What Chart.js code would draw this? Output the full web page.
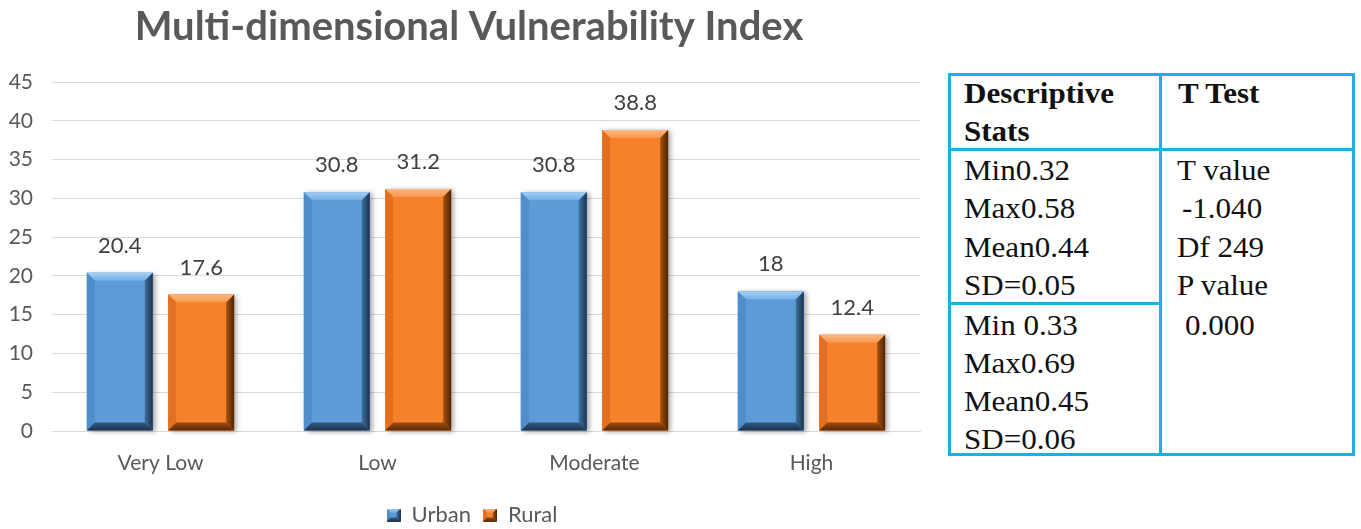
<!DOCTYPE html>
<html>
<head>
<meta charset="utf-8">
<script src="https://cdn.jsdelivr.net/npm/chart.js@4.4.1/dist/chart.umd.min.js"></script>
<style>
  html, body { margin: 0; padding: 0; background: #ffffff; }
  #page { position: relative; width: 1361px; height: 529px; overflow: hidden; background: #ffffff; }
  #chart { position: absolute; left: 0; top: 0; }
  .rule { position: absolute; background: #1FADE6; }
  .cell { position: absolute; font-family: "Liberation Serif", "Times New Roman", serif; font-size: 29px;
          line-height: 29px; color: #111111; white-space: pre; transform: scaleX(1.07); transform-origin: left top; }
  .cell.b { font-weight: bold; }
</style>
</head>
<body>
<div id="page">
  <canvas id="chart" width="940" height="529"></canvas>

  <!-- statistics table -->
  <div class="rule" style="left:948px; top:73px; width:407px; height:3px;"></div>
  <div class="rule" style="left:948px; top:453px; width:407px; height:3px;"></div>
  <div class="rule" style="left:948px; top:73px; width:3px; height:383px;"></div>
  <div class="rule" style="left:1352px; top:73px; width:3px; height:383px;"></div>
  <div class="rule" style="left:1159px; top:73px; width:3px; height:383px;"></div>
  <div class="rule" style="left:948px; top:148px; width:407px; height:3px;"></div>
  <div class="rule" style="left:948px; top:302px; width:214px; height:3px;"></div>

  <div class="cell b" style="left:964px; top:79px;">Descriptive</div>
  <div class="cell b" style="left:964px; top:117px;">Stats</div>
  <div class="cell b" style="left:1178px; top:79px;">T Test</div>

  <div class="cell" style="left:964px; top:156px;">Min0.32</div>
  <div class="cell" style="left:964px; top:194px;">Max0.58</div>
  <div class="cell" style="left:964px; top:233px;">Mean0.44</div>
  <div class="cell" style="left:964px; top:271px;">SD=0.05</div>

  <div class="cell" style="left:964px; top:311px;">Min 0.33</div>
  <div class="cell" style="left:964px; top:349px;">Max0.69</div>
  <div class="cell" style="left:964px; top:387px;">Mean0.45</div>
  <div class="cell" style="left:964px; top:425px;">SD=0.06</div>

  <div class="cell" style="left:1177px; top:156px;">T value</div>
  <div class="cell" style="left:1182px; top:194px;">-1.040</div>
  <div class="cell" style="left:1177px; top:233px;">Df 249</div>
  <div class="cell" style="left:1177px; top:271px;">P value</div>
  <div class="cell" style="left:1185px; top:311px;">0.000</div>
</div>

<script>
// chart data
const categories = ['Very Low', 'Low', 'Moderate', 'High'];
const urbanValues = [20.4, 30.8, 30.8, 18];
const ruralValues = [17.6, 31.2, 38.8, 12.4];
const seriesNames = ['Urban', 'Rural'];
const yMin = 0, yMax = 45, yStep = 5;

const FONT = 'Lato, "Open Sans", sans-serif';

// bevel palettes for the two series
const palettes = [
  { face: '#5B9BD8', top1: '#a5d0f5', top2: '#73ade6', left: '#4f8dcb',
    right1: '#3e6fa0', right2: '#1b3350', bot1: '#315b85', bot2: '#1d3249' },
  { face: '#F5812B', top1: '#fcb783', top2: '#f8974a', left: '#e27020',
    right1: '#a9520f', right2: '#4a2406', bot1: '#9e4b0d', bot2: '#5a2a06' }
];

function poly(ctx, pts, fill) {
  ctx.beginPath();
  ctx.moveTo(pts[0][0], pts[0][1]);
  for (let i = 1; i < pts.length; i++) ctx.lineTo(pts[i][0], pts[i][1]);
  ctx.closePath();
  ctx.fillStyle = fill;
  ctx.fill();
}

function drawBevel(ctx, L, T, R, B, pal, size) {
  const b = Math.min(size, (B - T) / 2, (R - L) / 2);
  let g = ctx.createLinearGradient(0, T, 0, T + b);
  g.addColorStop(0, pal.top1); g.addColorStop(1, pal.top2);
  poly(ctx, [[L, T], [R, T], [R - b, T + b], [L + b, T + b]], g);
  poly(ctx, [[L, T], [L + b, T + b], [L + b, B - b], [L, B]], pal.left);
  g = ctx.createLinearGradient(R - b, 0, R, 0);
  g.addColorStop(0, pal.right1); g.addColorStop(1, pal.right2);
  poly(ctx, [[R, T], [R, B], [R - b, B - b], [R - b, T + b]], g);
  g = ctx.createLinearGradient(0, B - b, 0, B);
  g.addColorStop(0, pal.bot1); g.addColorStop(1, pal.bot2);
  poly(ctx, [[L, B], [R, B], [R - b, B - b], [L + b, B - b]], g);
}

// small bevelled squares used as legend markers
function legendIcon(pal) {
  const c = document.createElement('canvas');
  c.width = 14; c.height = 13;
  const ctx = c.getContext('2d');
  ctx.fillStyle = pal.face;
  ctx.fillRect(0, 0, 14, 13);
  drawBevel(ctx, 0, 0, 14, 13, pal, 4);
  return c;
}
const icons = palettes.map(legendIcon);

// the title and legend are centred on the span that starts past the tick labels
const centreShift = {
  id: 'centreShift',
  afterLayout(chart) {
    if (chart.titleBlock) chart.titleBlock.left += 18;
    if (chart.legend) chart.legend.left += 24;
  }
};

const bevelBars = {
  id: 'bevelBars',
  beforeDatasetsDraw(chart) {
    const ctx = chart.ctx;
    ctx.save();
    chart.data.datasets.forEach((ds, di) => {
      chart.getDatasetMeta(di).data.forEach(bar => {
        const L = bar.x - bar.width / 2, R = bar.x + bar.width / 2;
        ctx.shadowColor = 'rgba(0,0,0,0.35)';
        ctx.shadowBlur = 5;
        ctx.shadowOffsetX = 3;
        ctx.shadowOffsetY = 1;
        ctx.fillStyle = palettes[di].face;
        ctx.fillRect(L, bar.y, R - L, bar.base - bar.y);
      });
    });
    ctx.restore();
  },
  afterDatasetsDraw(chart) {
    const ctx = chart.ctx;
    ctx.save();
    chart.data.datasets.forEach((ds, di) => {
      const meta = chart.getDatasetMeta(di);
      meta.data.forEach((bar, i) => {
        const L = bar.x - bar.width / 2, R = bar.x + bar.width / 2;
        drawBevel(ctx, L, bar.y, R, bar.base, palettes[di], 8);
        // value label above the bar
        ctx.font = '22px ' + FONT;
        ctx.fillStyle = '#404040';
        ctx.textAlign = 'center';
        ctx.textBaseline = 'middle';
        ctx.fillText(String(ds.data[i]), bar.x, bar.y - 27);
      });
    });
    ctx.restore();
  }
};

const chart = new Chart(document.getElementById('chart'), {
  type: 'bar',
  data: {
    labels: categories,
    datasets: [
      { label: seriesNames[0], data: urbanValues, backgroundColor: palettes[0].face,
        borderWidth: 0, categoryPercentage: 0.75, barPercentage: 0.81 },
      { label: seriesNames[1], data: ruralValues, backgroundColor: palettes[1].face,
        borderWidth: 0, categoryPercentage: 0.75, barPercentage: 0.81 }
    ]
  },
  options: {
    responsive: false,
    devicePixelRatio: 1,
    animation: false,
    layout: { padding: { left: 0, right: 20, top: 0, bottom: -7 } },
    plugins: {
      title: {
        display: true,
        text: 'Multi-dimensional Vulnerability Index',
        color: '#595959',
        font: { family: FONT, size: 40, weight: 'bold' },
        padding: { top: 3, bottom: 31 }
      },
      legend: {
        position: 'bottom',
        labels: {
          usePointStyle: true,
          pointStyleWidth: 14,
          padding: 12,
          color: '#595959',
          font: { family: FONT, size: 22 },
          generateLabels(c) {
            const items = Chart.defaults.plugins.legend.labels.generateLabels(c);
            items.forEach((it, i) => { it.pointStyle = icons[i]; });
            return items;
          }
        }
      },
      tooltip: { enabled: false }
    },
    scales: {
      x: {
        grid: { display: false, drawTicks: false },
        border: { color: '#d9d9d9' },
        ticks: { color: '#595959', padding: 20, font: { family: FONT, size: 21 } },
        afterFit(scale) { scale.height = 61; }
      },
      y: {
        min: yMin, max: yMax,
        grid: { color: '#d9d9d9', drawTicks: false },
        border: { display: false },
        ticks: { stepSize: yStep, color: '#595959', padding: 19, font: { family: FONT, size: 21 } },
        afterFit(scale) { scale.width = 52; }
      }
    }
  },
  plugins: [centreShift, bevelBars]
});
</script>
</body>
</html>
